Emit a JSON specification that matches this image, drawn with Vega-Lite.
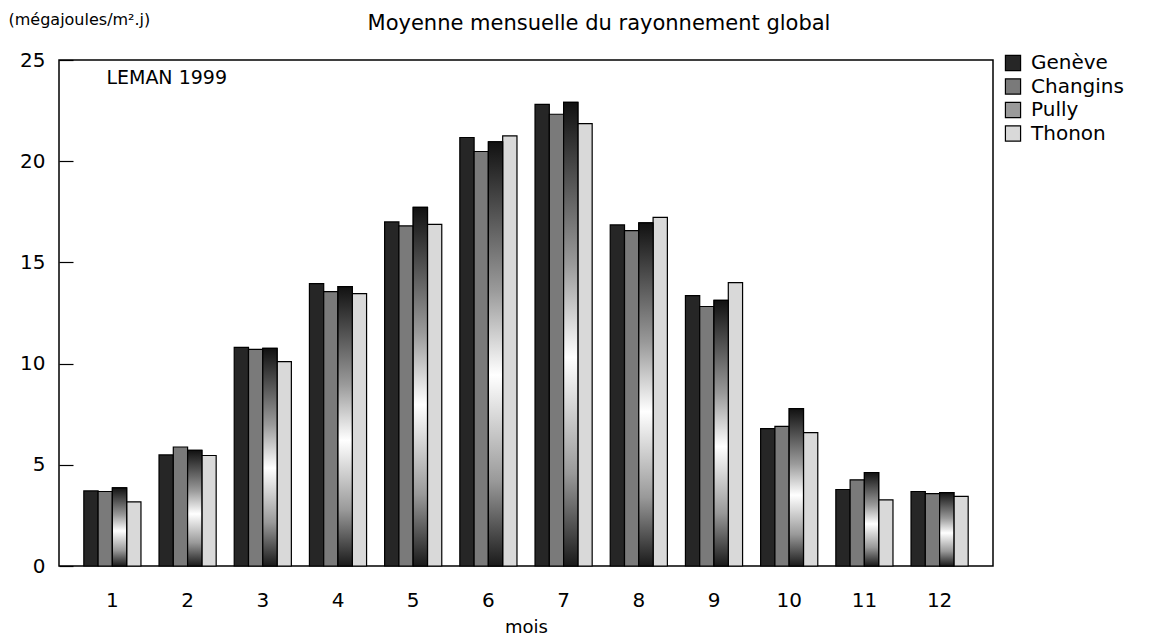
{
  "$schema": "https://vega.github.io/schema/vega-lite/v6.json",
  "autosize": {"type": "none"},
  "padding": {"left": 59, "top": 60, "right": 173, "bottom": 75},
  "width": 934,
  "height": 506,
  "background": "white",
  "config": {
    "font": "DejaVu Sans",
    "view": {"stroke": "black", "strokeWidth": 1.5},
    "axis": {"grid": false, "labelColor": "black", "titleColor": "black", "labelFont": "DejaVu Sans", "titleFont": "DejaVu Sans"},
    "legend": {"labelFont": "DejaVu Sans"}
  },
  "title": {"text": "Moyenne mensuelle du rayonnement global", "fontSize": 21, "font": "DejaVu Sans", "fontWeight": "normal", "color": "black", "anchor": "middle", "dx": 73, "offset": -23},
  "data": {"values": [
    {"mois": 1, "station": "Genève", "valeur": 3.71}, {"mois": 1, "station": "Changins", "valeur": 3.68}, {"mois": 1, "station": "Pully", "valeur": 3.86}, {"mois": 1, "station": "Thonon", "valeur": 3.17},
    {"mois": 2, "station": "Genève", "valeur": 5.49}, {"mois": 2, "station": "Changins", "valeur": 5.88}, {"mois": 2, "station": "Pully", "valeur": 5.72}, {"mois": 2, "station": "Thonon", "valeur": 5.46},
    {"mois": 3, "station": "Genève", "valeur": 10.8}, {"mois": 3, "station": "Changins", "valeur": 10.7}, {"mois": 3, "station": "Pully", "valeur": 10.75}, {"mois": 3, "station": "Thonon", "valeur": 10.1},
    {"mois": 4, "station": "Genève", "valeur": 13.95}, {"mois": 4, "station": "Changins", "valeur": 13.56}, {"mois": 4, "station": "Pully", "valeur": 13.8}, {"mois": 4, "station": "Thonon", "valeur": 13.46},
    {"mois": 5, "station": "Genève", "valeur": 17.0}, {"mois": 5, "station": "Changins", "valeur": 16.8}, {"mois": 5, "station": "Pully", "valeur": 17.72}, {"mois": 5, "station": "Thonon", "valeur": 16.88},
    {"mois": 6, "station": "Genève", "valeur": 21.17}, {"mois": 6, "station": "Changins", "valeur": 20.48}, {"mois": 6, "station": "Pully", "valeur": 20.96}, {"mois": 6, "station": "Thonon", "valeur": 21.25},
    {"mois": 7, "station": "Genève", "valeur": 22.81}, {"mois": 7, "station": "Changins", "valeur": 22.32}, {"mois": 7, "station": "Pully", "valeur": 22.91}, {"mois": 7, "station": "Thonon", "valeur": 21.86},
    {"mois": 8, "station": "Genève", "valeur": 16.85}, {"mois": 8, "station": "Changins", "valeur": 16.57}, {"mois": 8, "station": "Pully", "valeur": 16.95}, {"mois": 8, "station": "Thonon", "valeur": 17.22},
    {"mois": 9, "station": "Genève", "valeur": 13.36}, {"mois": 9, "station": "Changins", "valeur": 12.82}, {"mois": 9, "station": "Pully", "valeur": 13.12}, {"mois": 9, "station": "Thonon", "valeur": 14.0},
    {"mois": 10, "station": "Genève", "valeur": 6.79}, {"mois": 10, "station": "Changins", "valeur": 6.9}, {"mois": 10, "station": "Pully", "valeur": 7.78}, {"mois": 10, "station": "Thonon", "valeur": 6.59},
    {"mois": 11, "station": "Genève", "valeur": 3.78}, {"mois": 11, "station": "Changins", "valeur": 4.26}, {"mois": 11, "station": "Pully", "valeur": 4.62}, {"mois": 11, "station": "Thonon", "valeur": 3.27},
    {"mois": 12, "station": "Genève", "valeur": 3.68}, {"mois": 12, "station": "Changins", "valeur": 3.58}, {"mois": 12, "station": "Pully", "valeur": 3.63}, {"mois": 12, "station": "Thonon", "valeur": 3.44}
  ]},
  "layer": [
    {
      "mark": {"type": "bar", "stroke": "black", "strokeWidth": 1.2},
      "encoding": {
        "x": {"field": "mois", "type": "ordinal", "scale": {"paddingInner": 0.24, "paddingOuter": 0.33},
              "axis": {"title": "mois", "labelAngle": 0, "labelFontSize": 20, "labelPadding": 24, "ticks": false, "domain": false, "titleFontSize": 18, "titleFontWeight": "normal", "titlePadding": 8}},
        "xOffset": {"field": "station", "type": "nominal", "sort": ["Genève", "Changins", "Pully", "Thonon"], "scale": {"paddingInner": 0}},
        "y": {"field": "valeur", "type": "quantitative", "scale": {"domain": [0, 25], "nice": false},
              "axis": {"title": "(mégajoules/m².j)", "titleAngle": 0, "titleX": -51, "titleY": -36, "titleAlign": "left", "titleBaseline": "alphabetic", "titleFontSize": 16, "titleFontWeight": "normal",
                       "values": [0, 5, 10, 15, 20, 25], "labelFontSize": 20, "tickSize": -14, "tickColor": "black", "tickWidth": 1.2, "labelPadding": 28, "domain": false}},
        "fill": {"field": "station", "type": "nominal",
                 "scale": {"domain": ["Genève", "Changins", "Pully", "Thonon"], "range": ["#262626", "#7a7a7a", "#9a9a9a", "#d9d9d9"]},
                 "legend": {"title": null, "orient": "none", "legendX": 944, "legendY": -7, "labelFontSize": 20, "labelColor": "black", "symbolType": "square", "symbolSize": 230, "symbolStrokeColor": "black", "symbolStrokeWidth": 1.2, "rowPadding": 3.5, "labelOffset": 8}}
      }
    },
    {
      "transform": [{"filter": "datum.station === 'Pully'"}],
      "mark": {"type": "bar", "stroke": "black", "strokeWidth": 1.2,
               "fill": {"gradient": "linear", "x1": 0, "y1": 0, "x2": 0, "y2": 1, "stops": [{"offset": 0, "color": "#111111"}, {"offset": 0.35, "color": "#9a9a9a"}, {"offset": 0.55, "color": "#ffffff"}, {"offset": 0.8, "color": "#999999"}, {"offset": 1, "color": "#1a1a1a"}]}},
      "encoding": {
        "x": {"field": "mois", "type": "ordinal"},
        "xOffset": {"field": "station", "type": "nominal", "sort": ["Genève", "Changins", "Pully", "Thonon"]},
        "y": {"field": "valeur", "type": "quantitative"}
      }
    },
    {
      "data": {"values": [{"mois": 1, "valeur": 24.1, "label": "LEMAN 1999"}]},
      "mark": {"type": "text", "align": "left", "baseline": "middle", "fontSize": 19, "dx": -6, "color": "black"},
      "encoding": {
        "x": {"field": "mois", "type": "ordinal"},
        "y": {"field": "valeur", "type": "quantitative"},
        "text": {"field": "label"}
      }
    }
  ]
}
